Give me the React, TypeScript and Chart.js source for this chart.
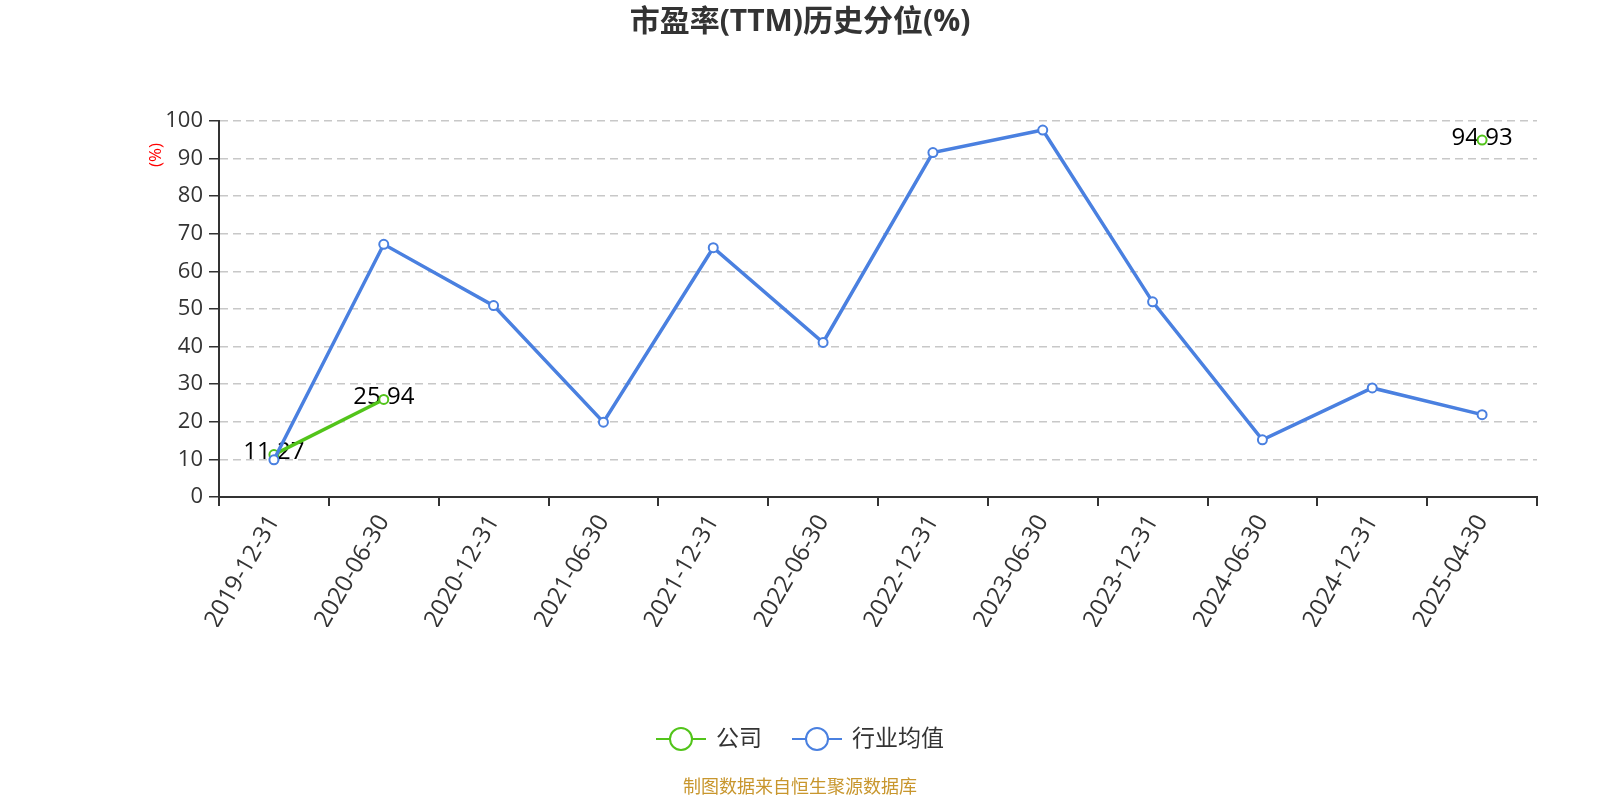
import React, { useEffect, useRef } from "react";
import { Chart, registerables } from "chart.js";

Chart.register(...registerables);

const categories = [
  "2019-12-31",
  "2020-06-30",
  "2020-12-31",
  "2021-06-30",
  "2021-12-31",
  "2022-06-30",
  "2022-12-31",
  "2023-06-30",
  "2023-12-31",
  "2024-06-30",
  "2024-12-31",
  "2025-04-30",
];

const companyValues: (number | null)[] = [11.27, 25.94, null, null, null, null, null, null, null, null, null, 94.93];
const industryValues: number[] = [9.9, 67.2, 50.9, 19.9, 66.3, 41.1, 91.6, 97.6, 51.9, 15.2, 29.0, 21.9];

const seriesNames = ["公司", "行业均值"];
const seriesColors = ["#52c41a", "#4a80e0"];
const titleText = "市盈率(TTM)历史分位(%)";
const yAxisTitle = "(%)";
const sourceText = "制图数据来自恒生聚源数据库";
const yMin = 0;
const yMax = 100;
const yStep = 10;

const FONT = '"Open Sans", "Noto Sans CJK SC", sans-serif';

const overlayPlugin = {
  id: "overlay",
  beforeDatasetsDraw(chart: any) {
    const ctx = chart.ctx;
    const meta = chart.getDatasetMeta(0);
    ctx.save();
    ctx.font = `24px ${FONT}`;
    ctx.fillStyle = "#000";
    ctx.textAlign = "center";
    ctx.textBaseline = "middle";
    meta.data.forEach((pt: any, i: number) => {
      const v = companyValues[i];
      if (v === null || v === undefined) return;
      ctx.fillText(v.toFixed(2), pt.x, pt.y - 2);
    });
    ctx.restore();
  },
  afterDraw(chart: any) {
    const ctx = chart.ctx;
    const W = chart.width;
    ctx.save();
    // title
    ctx.font = `bold 30px ${FONT}`;
    ctx.fillStyle = "#333";
    ctx.textAlign = "center";
    ctx.textBaseline = "middle";
    ctx.fillText(titleText, W / 2, 22);

    // y axis title
    ctx.save();
    ctx.translate(156, 155);
    ctx.rotate(-Math.PI / 2);
    ctx.font = `17px ${FONT}`;
    ctx.fillStyle = "#ff0000";
    ctx.textAlign = "center";
    ctx.textBaseline = "middle";
    ctx.fillText(yAxisTitle, 0, 0);
    ctx.restore();

    // legend
    ctx.font = `23px ${FONT}`;
    const symW = 50;
    const gapText = 10;
    const itemGap = 30;
    const widths = seriesNames.map((n) => symW + gapText + ctx.measureText(n).width);
    const total = widths.reduce((a, b) => a + b, 0) + itemGap * (seriesNames.length - 1);
    let x = W / 2 - total / 2;
    const ly = 739;
    seriesNames.forEach((name, i) => {
      const c = seriesColors[i];
      ctx.strokeStyle = c;
      ctx.lineWidth = 2;
      ctx.beginPath();
      ctx.moveTo(x, ly);
      ctx.lineTo(x + symW, ly);
      ctx.stroke();
      ctx.beginPath();
      ctx.arc(x + symW / 2, ly, 11, 0, Math.PI * 2);
      ctx.fillStyle = "#fff";
      ctx.fill();
      ctx.stroke();
      ctx.fillStyle = "#333";
      ctx.textAlign = "left";
      ctx.textBaseline = "middle";
      ctx.fillText(name, x + symW + gapText, ly);
      x += widths[i] + itemGap;
    });

    // source
    ctx.font = `18px ${FONT}`;
    ctx.fillStyle = "#c8962d";
    ctx.textAlign = "center";
    ctx.textBaseline = "middle";
    ctx.fillText(sourceText, W / 2, 788);
    ctx.restore();
  },
};

export default function App() {
  const canvasRef = useRef<HTMLCanvasElement | null>(null);

  useEffect(() => {
    if (!canvasRef.current) return;
    Chart.defaults.font.family = FONT;
    const chart = new Chart(canvasRef.current, {
      type: "line",
      data: {
        labels: categories,
        datasets: [
          {
            label: seriesNames[0],
            data: companyValues,
            borderColor: seriesColors[0],
            backgroundColor: "#fff",
            pointBackgroundColor: "#fff",
            pointBorderColor: seriesColors[0],
            pointRadius: 4.5,
            pointBorderWidth: 2,
            borderWidth: 3.5,
            spanGaps: false,
            tension: 0,
            order: 1,
          },
          {
            label: seriesNames[1],
            data: industryValues,
            borderColor: seriesColors[1],
            backgroundColor: "#fff",
            pointBackgroundColor: "#fff",
            pointBorderColor: seriesColors[1],
            pointRadius: 4.5,
            pointBorderWidth: 2,
            borderWidth: 3.5,
            tension: 0,
            order: 0,
          },
        ],
      },
      options: {
        responsive: false,
        animation: false,
        devicePixelRatio: 1,
        layout: { padding: { top: 121, right: 63, bottom: 173, left: 0 } },
        plugins: {
          legend: { display: false },
          title: { display: false },
          tooltip: { enabled: false },
        },
        scales: {
          x: {
            type: "category",
            offset: true,
            grid: {
              drawOnChartArea: false,
              offset: true,
              tickLength: 9,
              color: "#333",
              lineWidth: 2,
            },
            border: { display: true, color: "#333", width: 2 },
            ticks: {
              minRotation: 60,
              maxRotation: 60,
              autoSkip: false,
              padding: 4,
              color: "#333",
              font: { size: 24, family: FONT },
            },
            afterFit: (s: any) => {
              s.height = 130;
            },
          },
          y: {
            min: yMin,
            max: yMax,
            ticks: {
              stepSize: yStep,
              color: "#333",
              padding: 6,
              font: { size: 22, family: FONT },
            },
            grid: {
              color: "#c8c8c8",
              lineWidth: 1.5,
              tickLength: 10,
              tickColor: "#333",
              tickWidth: 1.5,
              tickBorderDash: [],
            },
            border: { display: true, color: "#333", width: 2, dash: [8, 5] },
            afterFit: (s: any) => {
              s.width = 219;
            },
          },
        },
      },
      plugins: [overlayPlugin],
    } as any);
    return () => chart.destroy();
  }, []);

  return (
    <div style={{ position: "absolute", left: 0, top: 0, width: 1600, height: 800, background: "#fff" }}>
      <canvas ref={canvasRef} width={1600} height={800} style={{ display: "block" }} />
    </div>
  );
}
